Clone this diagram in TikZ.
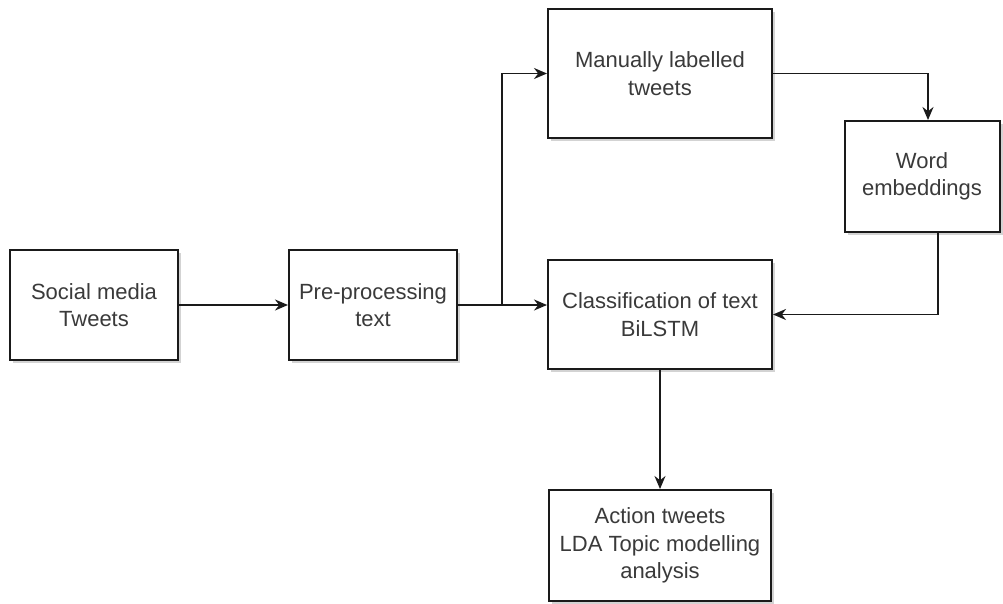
\documentclass[tikz,border=0pt]{standalone}
\usepackage{fontspec}
\setmainfont{Liberation Sans}
\usepackage{tikz}
\usetikzlibrary{arrows.meta,positioning,calc,shadows}
\definecolor{Ink}{HTML}{3A3A3A}
\definecolor{Edge}{HTML}{1A1A1A}
\definecolor{Shade}{HTML}{C8C8C8}
\tikzset{
  stage/.style={draw=Edge,line width=2pt,fill=white,text=Ink,align=center,font=\fontsize{22}{27.5}\selectfont,
    drop shadow={shadow xshift=3pt,shadow yshift=-3pt,fill=Shade,opacity=.8}},
  link/.style={-{Stealth[length=13pt,width=11pt]},line width=1.9pt,draw=Edge}
}
\begin{document}
\begin{tikzpicture}[x=1pt,y=-1pt]
\useasboundingbox (0,0) rectangle (1003,603);
\node[stage,minimum width=168pt,minimum height=110pt] (social) at (94,305) {Social media\\Tweets};
\node[stage,minimum width=168pt,minimum height=110pt] (prep) at (373,305) {Pre-processing\\text};
\node[stage,minimum width=224pt,minimum height=129pt] (manual) at (660,73.5) {Manually labelled\\tweets};
\node[stage,minimum width=155pt,minimum height=111pt] (word) at (922,176.5) {Word\\embeddings};
\node[stage,minimum width=224pt,minimum height=109pt] (classify) at (660,314.5) {Classification of text\\BiLSTM};
\node[stage,minimum width=222pt,minimum height=111pt] (action) at (660,545.5) {Action tweets\\LDA Topic modelling\\analysis};
\coordinate (split) at (502,305);
\draw[link] (social.east) -- (prep.west);
\draw[link] (prep.east) -- (prep.east -| classify.west);
\draw[link] (split) |- (manual.west);
\draw[link] (manual.east) -| ([xshift=6pt]word.north);
\draw[link] ([xshift=16pt]word.south) |- (classify.east);
\draw[link] (classify.south) -- (action.north);
\end{tikzpicture}
\end{document}
